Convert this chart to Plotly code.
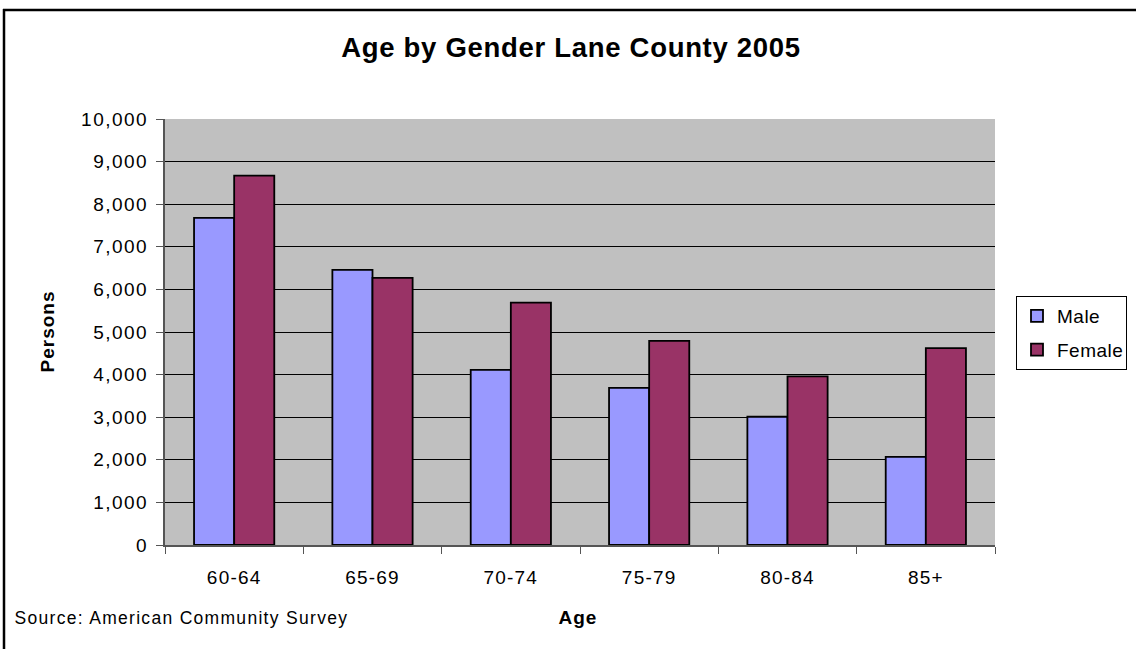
import plotly.graph_objects as go

categories = ["60-64", "65-69", "70-74", "75-79", "80-84", "85+"]
male = [7680, 6460, 4110, 3690, 3010, 2070]
female = [8670, 6270, 5690, 4790, 3960, 4620]
y_ticks = list(range(0, 10001, 1000))

W, H = 1136, 649
L, R, T, B = 165, 995, 119, 545

def px(x):
    return (x - L) / (R - L)

def py(y):
    return (B - y) / (B - T)

fig = go.Figure()
fig.add_trace(go.Bar(name="Male", x=categories, y=male, legendgroup="m",
                     marker=dict(color="#9999FF", line=dict(color="black", width=1.8))))
fig.add_trace(go.Bar(name="Female", x=categories, y=female, legendgroup="f",
                     marker=dict(color="#993366", line=dict(color="black", width=1.8))))

font = "Liberation Sans, Arial, sans-serif"
fig.update_layout(
    width=W, height=H,
    margin=dict(l=L, r=W - R, t=T, b=H - B, pad=0, autoexpand=False),
    paper_bgcolor="white", plot_bgcolor="#C0C0C0",
    barmode="group", bargap=0.42, bargroupgap=0,
    font=dict(family=font, size=18, color="black"),
    showlegend=True,
    legend=dict(x=px(1016), y=py(296), xanchor="left", yanchor="top",
                bordercolor="black", borderwidth=1, bgcolor="white",
                font=dict(size=19), itemwidth=30, traceorder="grouped",
                tracegroupgap=6),
    title=dict(text="<b>Age by Gender Lane County 2005</b>", x=571 / W, xanchor="center",
               y=1 - 47 / H, yanchor="middle", font=dict(size=27.5)),
)
fig.update_yaxes(range=[0, 10000], tickvals=y_ticks, tickformat=",", ticks="outside",
                 ticklen=7, tickcolor="#555", showline=True, linecolor="#555", linewidth=2,
                 showgrid=True, gridcolor="black", gridwidth=1, zeroline=False,
                 tickfont=dict(size=19), ticklabelstandoff=4)
fig.update_xaxes(ticks="outside", tickson="boundaries", ticklen=7, tickcolor="#555",
                 showline=True, linecolor="#555", linewidth=2, showgrid=False,
                 tickfont=dict(size=19), ticklabelstandoff=14)

annots = [
    dict(text="<b>Persons</b>", x=px(47), y=py(332), textangle=-90, font=dict(size=19)),
    dict(text="<b>Age</b>", x=px(578), y=py(617), font=dict(size=19)),
    dict(text="Source: American Community Survey", x=px(181), y=py(618),
         font=dict(size=17.5)),
]
for a in annots:
    a.update(xref="paper", yref="paper", showarrow=False)
    a.setdefault("xanchor", "center")
    a.setdefault("yanchor", "middle")
    fig.add_annotation(**a)

fig.add_shape(type="line", xref="paper", yref="paper", x0=px(3), x1=px(1140), y0=py(10), y1=py(10),
              line=dict(color="black", width=2.5))
fig.add_shape(type="line", xref="paper", yref="paper", x0=px(4), x1=px(4), y0=py(9), y1=py(655),
              line=dict(color="black", width=2.5))

post = """
document.body.style.margin='0';
document.body.style.overflow='hidden';
function ls(sel, v){document.querySelectorAll(sel).forEach(function(t){t.style.letterSpacing=v;});}
ls('.gtitle', '0.7px');
ls('.xtick text', '1.2px');
ls('.ytick text', '1.5px');
ls('.legendtext', '0.5px');
document.querySelectorAll('.annotation-text').forEach(function(t){
  var txt = t.textContent || '';
  t.style.letterSpacing = (txt.indexOf('Source') === 0) ? '1.3px' : '1px';
});
"""
fig.write_html("out.html", post_script=post, config={"displayModeBar": False})
